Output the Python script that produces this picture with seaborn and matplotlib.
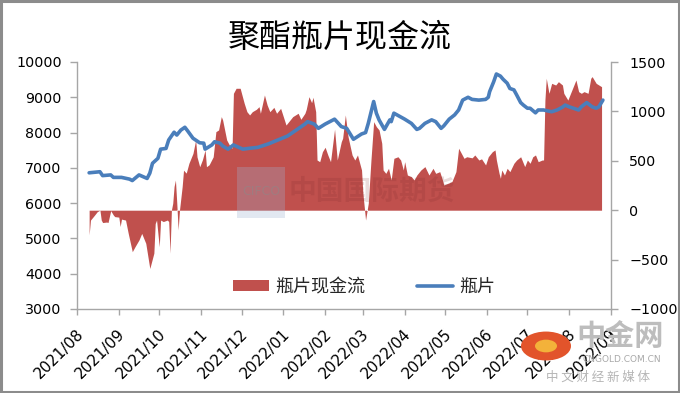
import matplotlib
matplotlib.use("Agg")
import matplotlib.pyplot as plt
import matplotlib.dates as mdates
import matplotlib.transforms as mtrans
from matplotlib.patches import Patch, Rectangle, Circle
from matplotlib.lines import Line2D
import pandas as pd
import seaborn as sns

# ---------------- data ----------------
price_dates = ['2021-08-10','2021-08-18','2021-08-20','2021-08-26','2021-08-28',
 '2021-09-03','2021-09-09','2021-09-11','2021-09-16','2021-09-22','2021-09-24','2021-09-26','2021-09-30',
 '2021-10-02','2021-10-06','2021-10-08','2021-10-12','2021-10-14','2021-10-17','2021-10-20','2021-10-22','2021-10-26','2021-10-31',
 '2021-11-03','2021-11-04','2021-11-09','2021-11-11','2021-11-15','2021-11-17','2021-11-21','2021-11-25','2021-11-29',
 '2021-12-02','2021-12-08','2021-12-13','2021-12-21','2021-12-28',
 '2022-01-04','2022-01-09','2022-01-17','2022-01-19','2022-01-24','2022-01-27',
 '2022-02-01','2022-02-08','2022-02-13','2022-02-17','2022-02-22','2022-02-28',
 '2022-03-03','2022-03-05','2022-03-09','2022-03-11','2022-03-13','2022-03-17','2022-03-21','2022-03-22','2022-03-24',
 '2022-04-01','2022-04-06','2022-04-10','2022-04-12','2022-04-16','2022-04-21','2022-04-24','2022-04-28','2022-04-30',
 '2022-05-04','2022-05-08','2022-05-11','2022-05-14','2022-05-18','2022-05-21','2022-05-26','2022-05-31',
 '2022-06-02','2022-06-03','2022-06-06','2022-06-08','2022-06-11','2022-06-13','2022-06-16','2022-06-18','2022-06-21','2022-06-23','2022-06-26','2022-06-28',
 '2022-07-01','2022-07-03','2022-07-07','2022-07-09','2022-07-13','2022-07-19','2022-07-23','2022-07-27','2022-07-29',
 '2022-08-01','2022-08-08','2022-08-10','2022-08-14','2022-08-18','2022-08-21','2022-08-23','2022-08-26']
price_values = [6860,6890,6780,6800,6730,
 6730,6680,6640,6800,6700,6850,7130,7270,
 7530,7550,7790,8010,7930,8070,8150,8050,7840,7710,
 7700,7530,7650,7740,7700,7620,7530,7650,7580,
 7530,7560,7580,7680,7790,
 7900,8030,8240,8310,8240,8120,
 8240,8380,8170,8120,7810,7960,
 8000,8260,8880,8550,8360,8090,8360,8310,8550,
 8380,8260,8090,8120,8260,8360,8310,8120,8190,
 8380,8500,8640,8920,9000,8940,8920,8940,
 9000,9160,9440,9660,9600,9510,9400,9250,9210,9070,8850,8780,
 8690,8690,8560,8640,8640,8590,8640,8720,8780,
 8730,8640,8730,8850,8730,8690,8730,8920]

cf_dates = ['2021-08-10','2021-08-11','2021-08-14','2021-08-16','2021-08-18','2021-08-19','2021-08-20','2021-08-23','2021-08-24','2021-08-25','2021-08-26','2021-08-28','2021-08-29',
 '2021-09-01','2021-09-02','2021-09-03','2021-09-06','2021-09-08','2021-09-11','2021-09-13','2021-09-16','2021-09-18','2021-09-21','2021-09-24','2021-09-27','2021-09-28','2021-09-29',
 '2021-10-01','2021-10-02','2021-10-04','2021-10-07','2021-10-08','2021-10-09','2021-10-10','2021-10-11','2021-10-12','2021-10-13','2021-10-14','2021-10-15','2021-10-16','2021-10-18','2021-10-19','2021-10-21','2021-10-23','2021-10-26','2021-10-28','2021-10-29','2021-10-31',
 '2021-11-02','2021-11-04','2021-11-05','2021-11-07','2021-11-10','2021-11-12','2021-11-14','2021-11-16','2021-11-17','2021-11-20','2021-11-22','2021-11-24','2021-11-25','2021-11-27','2021-11-30',
 '2021-12-01','2021-12-03','2021-12-05','2021-12-07','2021-12-09','2021-12-12','2021-12-14','2021-12-15','2021-12-18','2021-12-20','2021-12-22','2021-12-25','2021-12-27','2021-12-30',
 '2022-01-01','2022-01-03','2022-01-05','2022-01-08','2022-01-10','2022-01-12','2022-01-14','2022-01-17','2022-01-18','2022-01-20','2022-01-22','2022-01-23','2022-01-25','2022-01-26','2022-01-28','2022-01-30',
 '2022-02-01','2022-02-03','2022-02-05','2022-02-08','2022-02-10','2022-02-13','2022-02-14','2022-02-16','2022-02-18','2022-02-21','2022-02-23','2022-02-25','2022-02-28',
 '2022-03-01','2022-03-02','2022-03-03','2022-03-05','2022-03-07','2022-03-09','2022-03-11','2022-03-13','2022-03-15','2022-03-16','2022-03-18','2022-03-20','2022-03-22','2022-03-24','2022-03-27','2022-03-29','2022-03-31',
 '2022-04-01','2022-04-03','2022-04-06','2022-04-08','2022-04-10','2022-04-13','2022-04-16','2022-04-19','2022-04-22','2022-04-24','2022-04-27','2022-04-29','2022-04-30',
 '2022-05-03','2022-05-06','2022-05-09','2022-05-11','2022-05-13','2022-05-15','2022-05-17','2022-05-21','2022-05-23','2022-05-26','2022-05-28','2022-05-31',
 '2022-06-02','2022-06-05','2022-06-07','2022-06-08','2022-06-10','2022-06-11','2022-06-12','2022-06-14','2022-06-16','2022-06-18','2022-06-21','2022-06-23','2022-06-26','2022-06-27','2022-06-29',
 '2022-07-01','2022-07-03','2022-07-05','2022-07-07','2022-07-09','2022-07-12','2022-07-13','2022-07-14','2022-07-15','2022-07-17','2022-07-19','2022-07-22','2022-07-24','2022-07-27','2022-07-28','2022-07-31',
 '2022-08-01','2022-08-04','2022-08-06','2022-08-08','2022-08-10','2022-08-12','2022-08-15','2022-08-17','2022-08-18','2022-08-21','2022-08-23','2022-08-25']
cf_values = [-250,-100,-50,-15,0,-100,-125,-120,-125,-65,-5,-50,-65,
 -70,-165,-90,-100,-235,-420,-370,-300,-235,-335,-590,-435,-135,-100,
 -370,-100,-115,-100,-115,-435,0,70,240,305,70,-200,0,240,405,375,475,575,710,540,440,
 510,610,440,460,540,795,812,947,913,711,660,627,1183,1234,1234,
 1183,1082,997,964,997,1021,1048,981,1166,1065,997,1041,981,1031,
 947,862,896,947,964,981,920,981,1021,1149,1088,1143,997,508,491,592,
 637,559,491,820,508,694,728,964,744,559,508,559,407,
 171,36,-100,70,508,896,845,812,677,407,373,424,306,525,541,508,407,
 491,356,339,306,356,407,441,356,424,373,390,306,255,
 272,289,390,627,576,525,541,530,559,508,520,458,
 541,592,610,508,373,323,407,356,424,390,475,508,541,508,441,
 508,475,541,559,491,508,508,1115,1335,1183,1284,1267,1301,1267,1183,1115,
 1149,1250,1318,1200,1183,1200,1183,1335,1352,1284,1267,1250]

series_names = ['瓶片现金流', '瓶片']
title_text = '聚酯瓶片现金流'
left_ticks = [3000, 4000, 5000, 6000, 7000, 8000, 9000, 10000]
right_ticks = [-1000, -500, 0, 500, 1000, 1500]

price_df = pd.DataFrame({'date': pd.to_datetime(price_dates), 'price': price_values})
cf_df = pd.DataFrame({'date': pd.to_datetime(cf_dates), 'cf': cf_values})

RED = '#C0504D'
BLUE = '#4A7EBB'
GRAY = '#A6A6A6'

sns.set_theme(style='white')
plt.rcParams['font.family'] = ['DejaVu Sans', 'Noto Sans CJK SC']

W, H = 680, 393
fig = plt.figure(figsize=(W / 100, H / 100), dpi=100)
fig.patch.set_facecolor('white')
ax = fig.add_axes([77 / W, 1 - 309 / H, (611 - 77) / W, (309 - 62) / H])
ax2 = ax.twinx()

# area (right axis)
ax2.fill_between(cf_df['date'], cf_df['cf'], 0, color=RED, linewidth=0)
# line (left axis)
sns.lineplot(data=price_df, x='date', y='price', ax=ax, color=BLUE, linewidth=2.6, legend=False)
ax.set_zorder(ax2.get_zorder() + 1)
ax.patch.set_visible(False)

ax.set_xlim(pd.Timestamp('2021-08-01'), pd.Timestamp('2022-09-01'))
ax.set_ylim(3000, 10000)
ax.set_yticks(left_ticks)
ax2.set_ylim(-1000, 1500)
ax2.set_yticks(right_ticks)
ax.set_xlabel('')
ax.set_ylabel('')
ax2.set_ylabel('')

ax.xaxis.set_major_locator(mdates.MonthLocator())
ax.xaxis.set_major_formatter(mdates.DateFormatter('%Y/%m'))

for a in (ax, ax2):
    for s in a.spines.values():
        s.set_color(GRAY)
        s.set_linewidth(1.0)
    a.spines['top'].set_visible(False)
ax.spines['right'].set_visible(False)
ax2.spines['left'].set_visible(False)
ax2.spines['bottom'].set_visible(False)

ax.tick_params(axis='y', left=True, direction='out', length=5, width=1, color=GRAY,
               pad=6, labelsize=10.3, labelcolor='black')
ax2.tick_params(axis='y', right=True, direction='out', length=5, width=1, color=GRAY,
                pad=8, labelsize=10.3, labelcolor='black')
ax.tick_params(axis='x', bottom=True, direction='out', length=4, width=1, color=GRAY,
               pad=12, labelsize=11, labelcolor='black')
offset = mtrans.ScaledTranslation(4 / 100, 0, fig.dpi_scale_trans)
for lbl in ax.get_xticklabels():
    lbl.set_rotation(45)
    lbl.set_ha('right')
    lbl.set_va('center')
    lbl.set_rotation_mode('anchor')
    lbl.set_transform(lbl.get_transform() + offset)

# title
fig.text(0.5, 1 - 38 / H, title_text, ha='center', va='center', fontsize=23,
         family=['Noto Sans CJK SC'], color='black')

# legend
handles = [Patch(facecolor=RED, edgecolor='none', label=series_names[0]),
           Line2D([0], [0], color=BLUE, lw=2.6, label=series_names[1])]
fig.legend(handles=handles, loc='center', bbox_to_anchor=(364 / W, 1 - 287 / H), ncol=2,
           frameon=False, prop={'family': ['Noto Sans CJK SC'], 'size': 13},
           handlelength=2.0, handletextpad=0.3, columnspacing=2.9, handleheight=0.6)

# watermark (CIFCO)
fig.patches.append(Rectangle((237 / W, 1 - 218 / H), 48 / W, 51 / H, transform=fig.transFigure,
                             facecolor='#9FB3D1', alpha=0.3, edgecolor='none', zorder=5))
fig.text(261 / W, 1 - 192 / H, 'CIFCO', ha='center', va='center', fontsize=9,
         color='#8a8a8a', alpha=0.5, zorder=6)
fig.text(372 / W, 1 - 192 / H, '中国国际期货', ha='center', va='center', fontsize=20,
         family=['Noto Sans CJK SC'], color='#7A2A2A', alpha=0.16, zorder=6, weight='bold')

# watermark (中金网)
fig.patches.append(Circle((546 / W, 1 - 346 / H), 25 / W, transform=fig.transFigure,
                          facecolor='#E2542B', edgecolor='none', zorder=7))
fig.patches.append(Circle((546 / W, 1 - 346 / H), 11 / W, transform=fig.transFigure,
                          facecolor='#F3B23A', edgecolor='none', zorder=8))
fig.text(620 / W, 1 - 336 / H, '中金网', ha='center', va='center', fontsize=21,
         family=['Noto Sans CJK SC'], color='#BDBDBD', weight='bold', zorder=7)
fig.text(622 / W, 1 - 360 / H, 'CNGOLD.COM.CN', ha='center', va='center', fontsize=6.5,
         color='#A8A8A8', zorder=7)
fig.text(598 / W, 1 - 377 / H, '中 文 财 经 新 媒 体', ha='center', va='center', fontsize=9,
         family=['Noto Sans CJK SC'], color='#B5B5B5', zorder=7)

# outer frame
fig.patches.append(Rectangle((0.002, 0.003), 0.996, 0.994, transform=fig.transFigure,
                             fill=False, edgecolor='#8C8C8C', linewidth=2.2, zorder=10))

fig.savefig('out.png', dpi=100, facecolor='white')
